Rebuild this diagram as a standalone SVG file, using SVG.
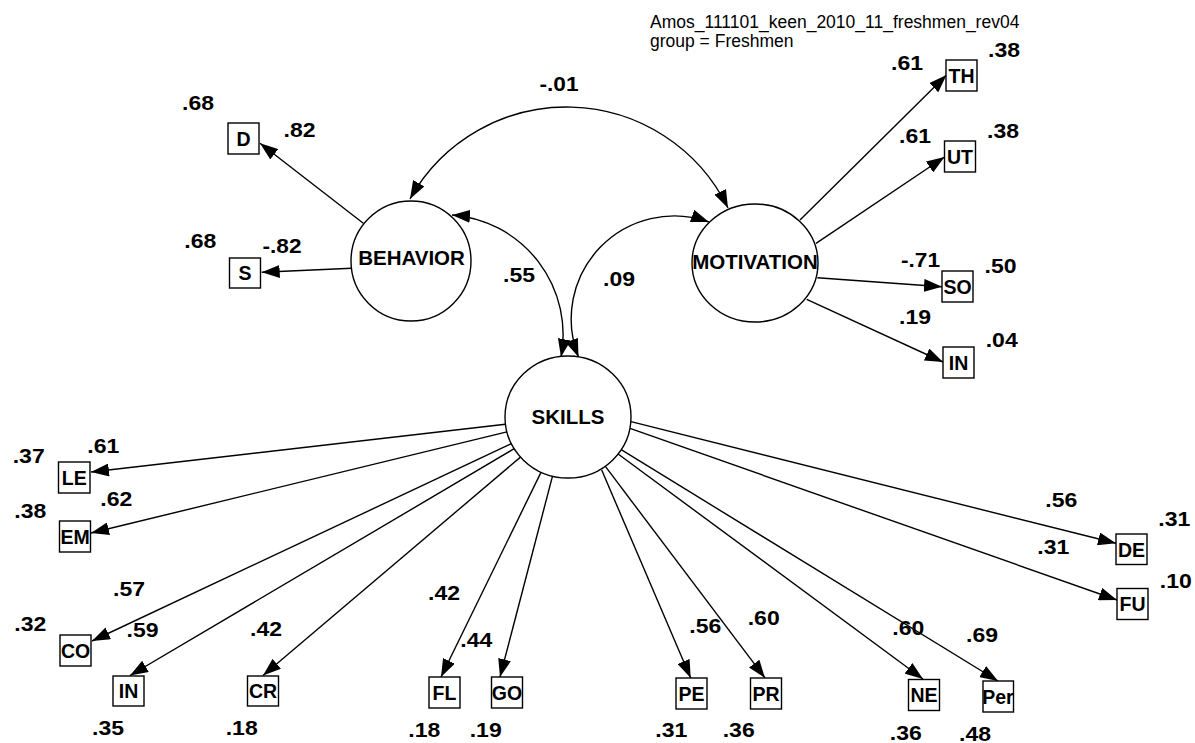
<svg xmlns="http://www.w3.org/2000/svg" width="1195" height="743" viewBox="0 0 1195 743">
<style>
.bg{fill:#ffffff}
.lat{fill:#ffffff;stroke:#000;stroke-width:1.4}
.obs{fill:#ffffff;stroke:#000;stroke-width:1.4}
.edge{fill:none;stroke:#000;stroke-width:1.4}
.lt{font-family:"Liberation Sans",Arial,sans-serif;font-weight:bold;font-size:20.5px;text-anchor:middle;fill:#000}
.bt{font-family:"Liberation Sans",Arial,sans-serif;font-weight:bold;font-size:19.5px;text-anchor:middle;fill:#000}
.num{font-family:"Liberation Sans",Arial,sans-serif;font-weight:bold;font-size:21px;text-anchor:middle;fill:#000}
.hdr{font-family:"Liberation Sans",Arial,sans-serif;font-size:17.5px;fill:#000}
</style>
<defs>
<marker id="ah" viewBox="-18 -6.5 18 13" refX="0" refY="0" markerWidth="18" markerHeight="13" markerUnits="userSpaceOnUse" orient="auto-start-reverse">
<path d="M0,0 L-18,-6.5 L-18,6.5 Z" fill="#000"/>
</marker>
</defs>
<rect class="bg" x="0" y="0" width="1195" height="743"/>

<g id="header">
<text class="hdr" x="650" y="28">Amos_111101_keen_2010_11_freshmen_rev04</text>
<text class="hdr" x="650" y="47">group = Freshmen</text>
</g>

<g id="connectors">
<path class="edge" marker-end="url(#ah)" d="M363.3,223.3 L260,143.3"/>
<path class="edge" marker-end="url(#ah)" d="M351.7,268.3 L261.7,272.3"/>
<path class="edge" marker-end="url(#ah)" d="M800,220 L946.5,75"/>
<path class="edge" marker-end="url(#ah)" d="M816,243.3 L944.5,157"/>
<path class="edge" marker-end="url(#ah)" d="M817.3,277.7 L942,286.7"/>
<path class="edge" marker-end="url(#ah)" d="M806.7,299.3 L943,362"/>
<path class="edge" marker-start="url(#ah)" marker-end="url(#ah)" d="M410,199 A179.4,179.4 0 0 1 728,208"/>
<path class="edge" marker-start="url(#ah)" marker-end="url(#ah)" d="M452,215 A120,120 0 0 1 561,357"/>
<path class="edge" marker-start="url(#ah)" marker-end="url(#ah)" d="M709,222 A103,103 0 0 0 578.5,357"/>
<path class="edge" marker-end="url(#ah)" d="M505.4,424.2 L91,472"/>
<path class="edge" marker-end="url(#ah)" d="M506.9,431.9 L91,533"/>
<path class="edge" marker-end="url(#ah)" d="M511.3,443.7 L92,641"/>
<path class="edge" marker-end="url(#ah)" d="M514.2,448.7 L130,675.5"/>
<path class="edge" marker-end="url(#ah)" d="M520.5,457.1 L263,675.5"/>
<path class="edge" marker-end="url(#ah)" d="M541.1,472.1 L441,677"/>
<path class="edge" marker-end="url(#ah)" d="M552.5,476.1 L500,677"/>
<path class="edge" marker-end="url(#ah)" d="M601.7,470 L690.7,678"/>
<path class="edge" marker-end="url(#ah)" d="M605.2,466.2 L765,678"/>
<path class="edge" marker-end="url(#ah)" d="M618.1,454 L923,679"/>
<path class="edge" marker-end="url(#ah)" d="M621.2,449.7 L998,681"/>
<path class="edge" marker-end="url(#ah)" d="M630,421.4 L1116,543.3"/>
<path class="edge" marker-end="url(#ah)" d="M630,428.4 L1117,600"/>
</g>

<g id="BEHAVIOR"><circle class="lat" cx="411" cy="261" r="60"/><text class="lt" x="411.5" y="265">BEHAVIOR</text></g>
<g id="MOTIVATION"><ellipse class="lat" cx="755" cy="263" rx="63" ry="59"/><text class="lt" x="755" y="269">MOTIVATION</text></g>
<g id="SKILLS"><ellipse class="lat" cx="568" cy="417" rx="63" ry="61"/><text class="lt" x="568" y="424">SKILLS</text></g>

<g id="D"><rect class="obs" x="228" y="123" width="31" height="31"/><text class="bt" x="243.5" y="145.5">D</text></g>
<g id="S"><rect class="obs" x="229.5" y="258" width="31" height="30"/><text class="bt" x="245" y="280">S</text></g>
<g id="TH"><rect class="obs" x="946" y="60" width="31" height="31"/><text class="bt" x="961.5" y="82.5">TH</text></g>
<g id="UT"><rect class="obs" x="944.5" y="141" width="31" height="31"/><text class="bt" x="960" y="163.5">UT</text></g>
<g id="SO"><rect class="obs" x="942" y="271" width="31" height="31"/><text class="bt" x="957.5" y="293.5">SO</text></g>
<g id="IN_M"><rect class="obs" x="943" y="347" width="31" height="31"/><text class="bt" x="958.5" y="369.5">IN</text></g>
<g id="LE"><rect class="obs" x="58.5" y="462" width="31.5" height="31"/><text class="bt" x="74.3" y="484.5">LE</text></g>
<g id="EM"><rect class="obs" x="59.5" y="521" width="31" height="31"/><text class="bt" x="75" y="543.5">EM</text></g>
<g id="CO"><rect class="obs" x="60" y="635" width="31" height="31"/><text class="bt" x="75.5" y="657.5">CO</text></g>
<g id="IN_S"><rect class="obs" x="113" y="676" width="31" height="30"/><text class="bt" x="128.5" y="698">IN</text></g>
<g id="CR"><rect class="obs" x="247.5" y="676" width="31" height="30"/><text class="bt" x="263" y="698">CR</text></g>
<g id="FL"><rect class="obs" x="429" y="677" width="31" height="31"/><text class="bt" x="444.5" y="699.5">FL</text></g>
<g id="GO"><rect class="obs" x="491.5" y="677" width="31" height="31"/><text class="bt" x="507" y="699.5">GO</text></g>
<g id="PE"><rect class="obs" x="676" y="678" width="31" height="31"/><text class="bt" x="691.5" y="700.5">PE</text></g>
<g id="PR"><rect class="obs" x="750.5" y="678" width="31" height="31"/><text class="bt" x="766" y="700.5">PR</text></g>
<g id="NE"><rect class="obs" x="908.5" y="679.5" width="31" height="31"/><text class="bt" x="924" y="702">NE</text></g>
<g id="Per"><rect class="obs" x="983" y="681" width="30.5" height="31"/><text class="bt" x="998" y="703.5">Per</text></g>
<g id="DE"><rect class="obs" x="1116" y="534" width="31" height="30.5"/><text class="bt" x="1131.5" y="556.5">DE</text></g>
<g id="FU"><rect class="obs" x="1117" y="588.5" width="31" height="31"/><text class="bt" x="1132.5" y="611">FU</text></g>

<g id="labels">
<text class="num" x="198" y="110" textLength="32" lengthAdjust="spacingAndGlyphs">.68</text>
<text class="num" x="299.5" y="136.7" textLength="32" lengthAdjust="spacingAndGlyphs">.82</text>
<text class="num" x="200.3" y="248" textLength="32" lengthAdjust="spacingAndGlyphs">.68</text>
<text class="num" x="282" y="253" textLength="39" lengthAdjust="spacingAndGlyphs">-.82</text>
<text class="num" x="559" y="91" textLength="39" lengthAdjust="spacingAndGlyphs">-.01</text>
<text class="num" x="907" y="70" textLength="32" lengthAdjust="spacingAndGlyphs">.61</text>
<text class="num" x="1004" y="57" textLength="32" lengthAdjust="spacingAndGlyphs">.38</text>
<text class="num" x="915" y="143" textLength="32" lengthAdjust="spacingAndGlyphs">.61</text>
<text class="num" x="1003" y="138" textLength="32" lengthAdjust="spacingAndGlyphs">.38</text>
<text class="num" x="920.5" y="267" textLength="39" lengthAdjust="spacingAndGlyphs">-.71</text>
<text class="num" x="1000.5" y="273" textLength="32" lengthAdjust="spacingAndGlyphs">.50</text>
<text class="num" x="915" y="324" textLength="32" lengthAdjust="spacingAndGlyphs">.19</text>
<text class="num" x="1001.7" y="346.7" textLength="32" lengthAdjust="spacingAndGlyphs">.04</text>
<text class="num" x="519" y="282" textLength="32" lengthAdjust="spacingAndGlyphs">.55</text>
<text class="num" x="619" y="286" textLength="32" lengthAdjust="spacingAndGlyphs">.09</text>
<text class="num" x="28.7" y="463" textLength="32" lengthAdjust="spacingAndGlyphs">.37</text>
<text class="num" x="103.3" y="453" textLength="32" lengthAdjust="spacingAndGlyphs">.61</text>
<text class="num" x="30.3" y="517.7" textLength="32" lengthAdjust="spacingAndGlyphs">.38</text>
<text class="num" x="116.3" y="506" textLength="32" lengthAdjust="spacingAndGlyphs">.62</text>
<text class="num" x="129" y="596" textLength="32" lengthAdjust="spacingAndGlyphs">.57</text>
<text class="num" x="30.3" y="631" textLength="32" lengthAdjust="spacingAndGlyphs">.32</text>
<text class="num" x="142.5" y="637" textLength="32" lengthAdjust="spacingAndGlyphs">.59</text>
<text class="num" x="266" y="636" textLength="32" lengthAdjust="spacingAndGlyphs">.42</text>
<text class="num" x="108" y="735" textLength="32" lengthAdjust="spacingAndGlyphs">.35</text>
<text class="num" x="241.7" y="735" textLength="32" lengthAdjust="spacingAndGlyphs">.18</text>
<text class="num" x="444" y="600" textLength="32" lengthAdjust="spacingAndGlyphs">.42</text>
<text class="num" x="476.3" y="647" textLength="32" lengthAdjust="spacingAndGlyphs">.44</text>
<text class="num" x="424.3" y="736.7" textLength="32" lengthAdjust="spacingAndGlyphs">.18</text>
<text class="num" x="485.7" y="736.7" textLength="32" lengthAdjust="spacingAndGlyphs">.19</text>
<text class="num" x="705.3" y="633" textLength="32" lengthAdjust="spacingAndGlyphs">.56</text>
<text class="num" x="763.7" y="625" textLength="32" lengthAdjust="spacingAndGlyphs">.60</text>
<text class="num" x="908.3" y="635" textLength="32" lengthAdjust="spacingAndGlyphs">.60</text>
<text class="num" x="982" y="641.7" textLength="32" lengthAdjust="spacingAndGlyphs">.69</text>
<text class="num" x="671.3" y="736.7" textLength="32" lengthAdjust="spacingAndGlyphs">.31</text>
<text class="num" x="738.7" y="736.7" textLength="32" lengthAdjust="spacingAndGlyphs">.36</text>
<text class="num" x="905.8" y="740" textLength="32" lengthAdjust="spacingAndGlyphs">.36</text>
<text class="num" x="975" y="741" textLength="32" lengthAdjust="spacingAndGlyphs">.48</text>
<text class="num" x="1061.3" y="506.7" textLength="32" lengthAdjust="spacingAndGlyphs">.56</text>
<text class="num" x="1174.3" y="525.7" textLength="32" lengthAdjust="spacingAndGlyphs">.31</text>
<text class="num" x="1053.3" y="554" textLength="32" lengthAdjust="spacingAndGlyphs">.31</text>
<text class="num" x="1175.8" y="588.3" textLength="32" lengthAdjust="spacingAndGlyphs">.10</text>
</g>
</svg>
